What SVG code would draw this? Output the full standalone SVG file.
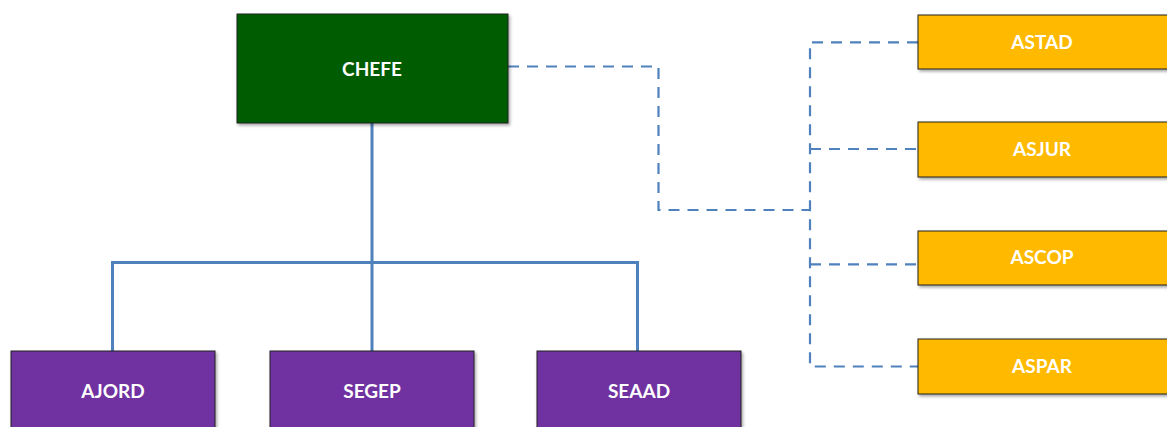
<svg xmlns="http://www.w3.org/2000/svg" width="1167" height="427" viewBox="0 0 1167 427">
<defs>
<filter id="sh" x="-10%" y="-10%" width="130%" height="140%">
<feDropShadow dx="1.5" dy="2" stdDeviation="1.5" flood-color="#000" flood-opacity="0.35"/>
</filter>
</defs>
<style>
.box{stroke:#222;stroke-width:1;filter:url(#sh)}
.g{fill:#005C00}
.p{fill:#7030A0}
.o{fill:#FFBA00}
.t{font-family:Lato,"Liberation Sans",sans-serif;font-weight:bold;font-size:19px;fill:#fff;text-anchor:middle}
.solid{fill:none;stroke:#4F81BD;stroke-width:3}
.dash{fill:none;stroke:#4F81BD;stroke-width:2.2;stroke-dasharray:11 8}
</style>
<rect width="1167" height="427" fill="#fff"/>
<g id="connectors">
<path class="solid" d="M372 123V351M112.5 351V262.5H637.5V351"/>
<path class="dash" d="M508 66.5H658.5V210H810"/>
<path class="dash" d="M918 42.3H810V366.5H918"/>
<path class="dash" d="M810 149H918"/>
<path class="dash" d="M810 264.3H918"/>
</g>
<g id="chefe"><rect class="box g" x="237" y="14" width="271" height="109"/><text class="t" x="372" y="76">CHEFE</text></g>
<g id="astad"><rect class="box o" x="918" y="15" width="252" height="54"/><text class="t" x="1042" y="49">ASTAD</text></g>
<g id="asjur"><rect class="box o" x="918" y="122" width="252" height="55"/><text class="t" x="1042" y="156">ASJUR</text></g>
<g id="ascop"><rect class="box o" x="918" y="231" width="252" height="54"/><text class="t" x="1042" y="264">ASCOP</text></g>
<g id="aspar"><rect class="box o" x="918" y="339" width="252" height="55"/><text class="t" x="1042" y="373">ASPAR</text></g>
<g id="ajord"><rect class="box p" x="11" y="351" width="204" height="82"/><text class="t" x="113" y="398">AJORD</text></g>
<g id="segep"><rect class="box p" x="270" y="351" width="204" height="82"/><text class="t" x="372" y="398">SEGEP</text></g>
<g id="seaad"><rect class="box p" x="537" y="351" width="204" height="82"/><text class="t" x="639" y="398">SEAAD</text></g>
</svg>
